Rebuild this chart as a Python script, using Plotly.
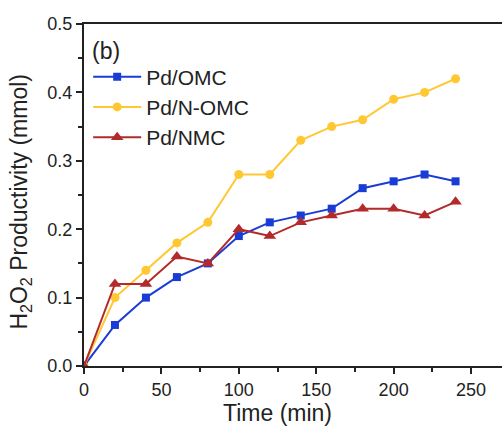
import plotly.graph_objects as go

time_min = [0, 20, 40, 60, 80, 100, 120, 140, 160, 180, 200, 220, 240]
pd_omc = [0, 0.06, 0.10, 0.13, 0.15, 0.19, 0.21, 0.22, 0.23, 0.26, 0.27, 0.28, 0.27]
pd_nomc = [0, 0.10, 0.14, 0.18, 0.21, 0.28, 0.28, 0.33, 0.35, 0.36, 0.39, 0.40, 0.42]
pd_nmc = [0, 0.12, 0.12, 0.16, 0.15, 0.20, 0.19, 0.21, 0.22, 0.23, 0.23, 0.22, 0.24]

FONT = "Liberation Sans, Arial, sans-serif"

fig = go.Figure()
fig.add_trace(go.Scatter(x=time_min, y=pd_omc, name="Pd/OMC", mode="lines+markers",
                         line=dict(color="#1a3cd6", width=2),
                         marker=dict(symbol="square", size=8, color="#1a3cd6")))
fig.add_trace(go.Scatter(x=time_min, y=pd_nomc, name="Pd/N-OMC", mode="lines+markers",
                         line=dict(color="#ffc832", width=2),
                         marker=dict(symbol="circle", size=9, color="#ffc832")))
fig.add_trace(go.Scatter(x=time_min, y=pd_nmc, name="Pd/NMC", mode="lines+markers",
                         line=dict(color="#b22a2a", width=2),
                         marker=dict(symbol="triangle-up", size=11, color="#b22a2a")))

fig.update_layout(
    width=502, height=428,
    margin=dict(l=84, r=0, t=24, b=62),
    paper_bgcolor="white", plot_bgcolor="white",
    font=dict(family=FONT, color="#222", size=18),
    showlegend=True,
    legend=dict(x=0.01, y=0.905, xanchor="left", yanchor="top",
                bgcolor="rgba(0,0,0,0)", font=dict(size=21, color="#222"),
                tracegroupgap=0, itemwidth=48),
    xaxis=dict(range=[0, 270], tickvals=[0, 50, 100, 150, 200, 250],
               ticks="outside", ticklen=6, tickwidth=2, tickcolor="#222",
               showline=True, linewidth=2, linecolor="#222", mirror=True,
               showgrid=False, zeroline=False,
               minor=dict(tickvals=[25, 75, 125, 175, 225], ticks="outside",
                          ticklen=4, tickwidth=2, tickcolor="#222"),
               tickfont=dict(size=18)),
    yaxis=dict(range=[0, 0.5], tickvals=[0, 0.1, 0.2, 0.3, 0.4, 0.5],
               ticktext=["0.0", "0.1", "0.2", "0.3", "0.4", "0.5"],
               ticks="outside", ticklen=6, tickwidth=2, tickcolor="#222",
               showline=True, linewidth=2, linecolor="#222",
               showgrid=False, zeroline=False,
               minor=dict(tickvals=[0.05, 0.15, 0.25, 0.35, 0.45], ticks="outside",
                          ticklen=4, tickwidth=2, tickcolor="#222"),
               tickfont=dict(size=18)),
    annotations=[
        dict(text="(b)", xref="paper", yref="paper", x=0.015, y=0.965,
             xanchor="left", yanchor="top", showarrow=False, font=dict(size=23, color="#222")),
        dict(text="Time (min)", xref="x", yref="paper", x=125, y=-0.18,
             xanchor="center", yanchor="bottom", showarrow=False, font=dict(size=23, color="#222")),
        dict(text="H<sub>2</sub>O<sub>2</sub> Productivity (mmol)", textangle=-90,
             xref="paper", yref="paper", x=-0.152, y=0.482,
             xanchor="center", yanchor="middle", showarrow=False, font=dict(size=23, color="#222")),
    ],
)

fig.write_html("out.html")
